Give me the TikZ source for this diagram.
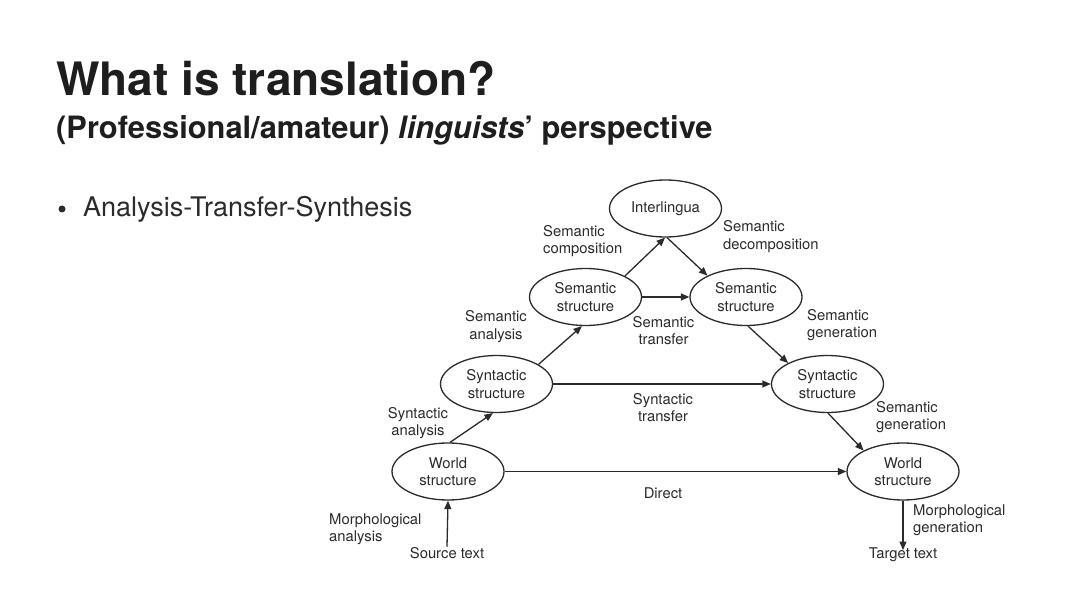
\documentclass[tikz,border=0pt]{standalone}
\usepackage{fontspec}
\setmainfont{TeX Gyre Heros}
\usetikzlibrary{shapes.geometric,arrows.meta}
\definecolor{ink}{HTML}{2B2B2B}
\definecolor{titleink}{HTML}{1E1E1E}
\begin{document}
\begin{tikzpicture}[x=1pt,y=-1pt,
  box/.style={ellipse,draw=ink,line width=1.3pt,minimum width=112pt,minimum height=57pt,inner sep=0pt,align=center,text=ink,font=\fontsize{14.8}{17.5}\selectfont},
  lbl/.style={text=ink,font=\fontsize{14.8}{17.5}\selectfont,inner sep=0pt},
  conn/.style={draw=ink,line width=1.3pt,-{Triangle[length=8.5pt,width=7pt]}}]
\useasboundingbox (0,0) rectangle (1080,607);
\fill[white] (0,0) rectangle (1080,607);
% header
\node[anchor=base west,inner sep=0pt,text=titleink,font=\fontsize{46}{50}\selectfont\bfseries] (title) at (56,96) {What is translation?};
\node[anchor=base west,inner sep=0pt,text=titleink,font=\fontsize{30.8}{34}\selectfont\bfseries] (subtitle) at (56,138.5) {(Professional/amateur) \textit{linguists}’ perspective};
\node[circle,fill=ink,minimum size=7pt,inner sep=0pt] (dot) at (62,209) {};
\node[anchor=base west,inner sep=0pt,text=ink,font=\fontsize{27}{30}\selectfont] (bullet) at (83,217) {Analysis-Transfer-Synthesis};
% ellipses
\node[box] (inter) at (665.5,208.5) {Interlingua};
\node[box] (sml) at (585.5,297) {Semantic\\structure};
\node[box] (smr) at (746,297) {Semantic\\structure};
\node[box] (syl) at (496.5,384) {Syntactic\\structure};
\node[box] (syr) at (827.5,384) {Syntactic\\structure};
\node[box] (wl) at (448,471.5) {World\\structure};
\node[box] (wr) at (903,471.5) {World\\structure};
% end texts
\node[lbl,anchor=base] (src) at (447,558) {Source text};
\node[lbl,anchor=base] (tgt) at (903,558) {Target text};
% connectors
\draw[conn] (src.north) -- (wl.south);
\draw[conn] (wl.86) -- (syl.263);
\draw[conn] (syl.25) -- (sml.263);
\draw[conn] (sml.28.5) -- (inter.269);
\draw[conn] (inter.273) -- (smr.151.7);
\draw[conn] (sml) -- (smr);
\draw[conn] (smr.274) -- (syr.152.6);
\draw[conn] (syl) -- (syr);
\draw[conn] (syr.271) -- (wr.152.9);
\draw[conn] (wl) -- (wr);
\draw[conn] (wr.south) -- ([yshift=-3pt]tgt.north);
% labels (base anchor = baseline of last line)
\node[lbl,align=left,anchor=base west] (lcomp) at (543,254) {Semantic\\composition};
\node[lbl,align=left,anchor=base west] (ldecomp) at (723,249.5) {Semantic\\decomposition};
\node[lbl,align=center,anchor=base] (lsemana) at (496,339) {Semantic\\analysis};
\node[lbl,align=center,anchor=base] (lsemtr) at (663.5,344.5) {Semantic\\transfer};
\node[lbl,align=left,anchor=base west] (lsemgen) at (807,337.5) {Semantic\\generation};
\node[lbl,align=center,anchor=base] (lsyntr) at (663,421.5) {Syntactic\\transfer};
\node[lbl,align=left,anchor=base west] (lsemgen2) at (876,429.5) {Semantic\\generation};
\node[lbl,align=center,anchor=base] (lsynana) at (418,435.5) {Syntactic\\analysis};
\node[lbl,anchor=base] (ldirect) at (663,498) {Direct};
\node[lbl,align=left,anchor=base west] (lmorana) at (329,541.5) {Morphological\\analysis};
\node[lbl,align=left,anchor=base west] (lmorgen) at (913,532.5) {Morphological\\generation};
\end{tikzpicture}
\end{document}
